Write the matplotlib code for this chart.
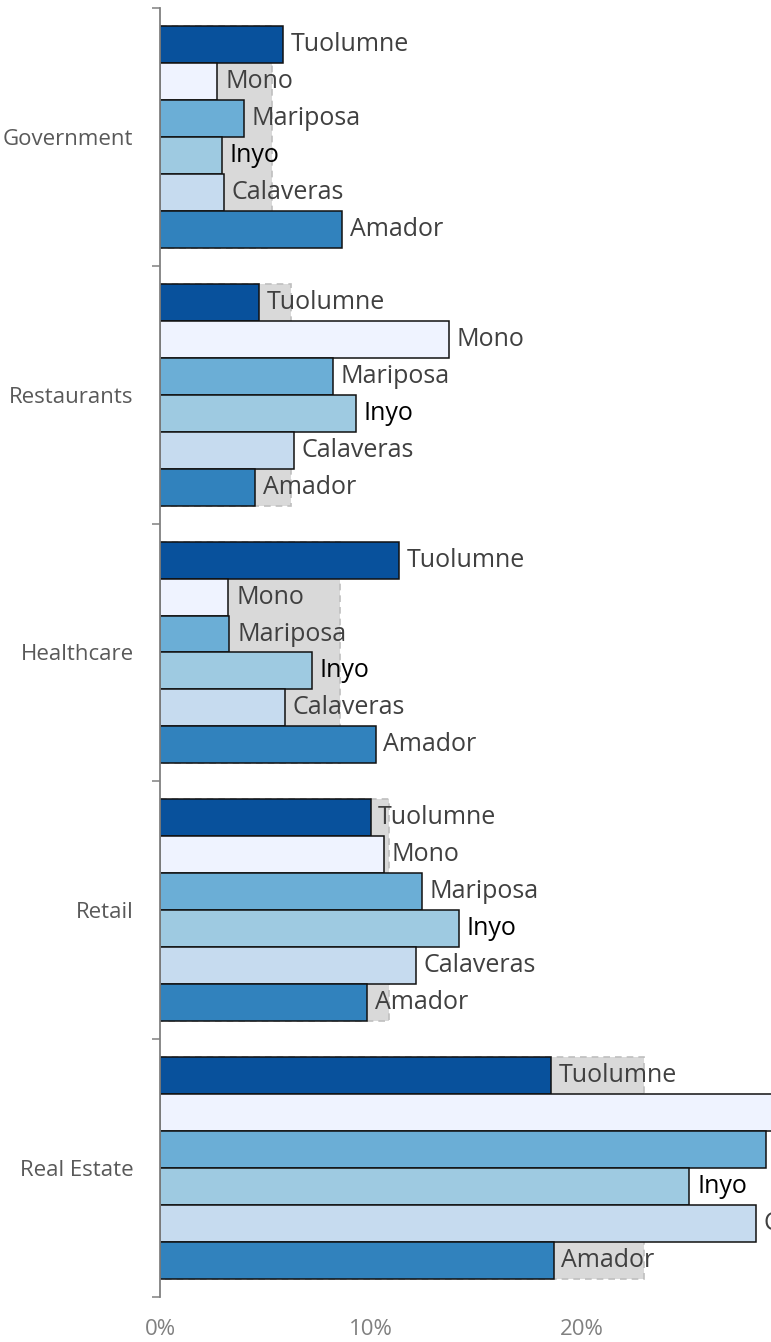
import numpy as np
import matplotlib
matplotlib.use("Agg")
import matplotlib.pyplot as plt
from matplotlib.ticker import FixedLocator, PercentFormatter

plt.rcParams["font.family"] = ["Open Sans", "DejaVu Sans"]

# ── Data (share of employment, %) ────────────────────────────────────────────
industries = ["Government", "Restaurants", "Healthcare", "Retail", "Real Estate"]
counties = ["Tuolumne", "Mono", "Mariposa", "Inyo", "Calaveras", "Amador"]

tuolumne  = [5.84, 4.69, 11.31, 9.98, 18.52]
mono      = [2.72, 13.71, 3.24, 10.63, 31.0]
mariposa  = [3.98, 8.21, 3.29, 12.42, 28.71]
inyo      = [2.94, 9.29, 7.20, 14.17, 25.09]
calaveras = [3.03, 6.34, 5.92, 12.12, 28.23]
amador    = [8.64, 4.50, 10.22, 9.83, 18.66]
benchmark = [5.32, 6.22, 8.53, 10.85, 22.95]

series = [tuolumne, mono, mariposa, inyo, calaveras, amador]
colors = ["#08519c", "#eff3ff", "#6baed6", "#9ecae1", "#c6dbef", "#3182bd"]
label_colors = ["#404040", "#404040", "#404040", "#000000", "#404040", "#404040"]

# ── Figure ───────────────────────────────────────────────────────────────────
W, H, DPI = 771, 1342, 100
fig = plt.figure(figsize=(W / DPI, H / DPI), dpi=DPI)
fig.patch.set_facecolor("white")

# axes runs past the right edge on purpose (x range is 0–30%)
left_px, right_px, top_px, bottom_px = 160, 793, 8, 1297
ax = fig.add_axes([left_px / W, 1 - bottom_px / H,
                   (right_px - left_px) / W, (bottom_px - top_px) / H])

y = np.arange(len(industries))
n = len(counties)
bh = 0.1435
group_h = bh * n

# grey dashed benchmark box behind each group
ax.barh(y, benchmark, height=group_h, color="#d9d9d9", edgecolor="#bfbfbf",
        linestyle=(0, (4, 3)), linewidth=1.2, zorder=1)

for i, (vals, c, lc, name) in enumerate(zip(series, colors, label_colors, counties)):
    pos = y - group_h / 2 + bh * (i + 0.5)
    ax.barh(pos, vals, height=bh, color=c, edgecolor="#111111",
            linewidth=1.1, zorder=2)
    for yy, v in zip(pos, vals):
        ax.annotate(name, xy=(v, yy), xytext=(5.5, 0), textcoords="offset points",
                    ha="left", va="center", fontsize=18, color=lc,
                    zorder=3, annotation_clip=False)

ax.set_xlim(0, 30)
ax.set_ylim(len(industries) - 0.5, -0.5)

ax.set_yticks(y)
ax.set_yticklabels(industries, fontsize=16, color="#595959")
ax.yaxis.set_minor_locator(FixedLocator(np.arange(-0.5, len(industries), 1)))
ax.tick_params(axis="y", which="major", length=0, pad=19)
ax.tick_params(axis="y", which="minor", length=5.5, width=1.1, color="#808080")

ax.set_xticks([0, 10, 20, 30])
ax.xaxis.set_major_formatter(PercentFormatter(decimals=0))
ax.tick_params(axis="x", length=0, pad=16, labelsize=16, labelcolor="#808080")

for s in ["top", "right", "bottom"]:
    ax.spines[s].set_visible(False)
ax.spines["left"].set_color("#808080")
ax.spines["left"].set_linewidth(1.3)
ax.set_facecolor("white")

fig.savefig("out.png", dpi=DPI, facecolor="white")
